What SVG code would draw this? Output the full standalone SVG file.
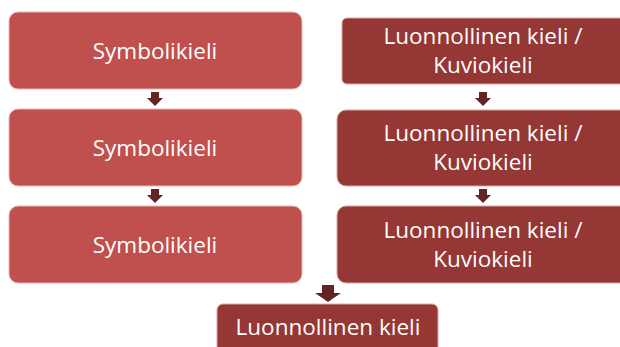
<svg xmlns="http://www.w3.org/2000/svg" width="620" height="347" viewBox="0 0 620 347">
<style>
.l{fill:#C0504D;stroke:#E6B9B8;stroke-width:1}
.r{fill:#953735;stroke:#D9A8A6;stroke-width:1}
.a{fill:#632523}
text{font-family:"Open Sans","Liberation Sans",sans-serif;font-size:22.5px;fill:#fff;text-anchor:middle}
</style>
<rect width="620" height="347" fill="#fff"/>
<g id="left1"><rect class="l" x="9" y="12" width="293" height="77" rx="9"/><text x="155" y="59">Symbolikieli</text></g>
<g id="left2"><rect class="l" x="9" y="109" width="293" height="77" rx="9"/><text x="155" y="156">Symbolikieli</text></g>
<g id="left3"><rect class="l" x="9" y="206" width="293" height="77" rx="9"/><text x="155" y="253">Symbolikieli</text></g>
<g id="right1"><rect class="r" x="342" y="18" width="290" height="66" rx="5"/><text x="483" y="44">Luonnollinen kieli /</text><text x="483" y="73">Kuviokieli</text></g>
<g id="right2"><rect class="r" x="337" y="110" width="300" height="76" rx="9"/><text x="483" y="141">Luonnollinen kieli /</text><text x="483" y="170">Kuviokieli</text></g>
<g id="right3"><rect class="r" x="337" y="206" width="300" height="77" rx="9"/><text x="483" y="238">Luonnollinen kieli /</text><text x="483" y="267">Kuviokieli</text></g>
<g id="bottom"><rect class="r" x="217" y="304" width="221" height="60" rx="6"/><text x="328" y="335">Luonnollinen kieli</text></g>
<g id="connectors">
<polygon class="a" points="151,92 159,92 159,98 163,98 155,106 147,98 151,98"/>
<polygon class="a" points="151,189 159,189 159,195 163,195 155,203 147,195 151,195"/>
<polygon class="a" points="479,92 487,92 487,98 491,98 483,106 475,98 479,98"/>
<polygon class="a" points="479,189 487,189 487,195 491,195 483,203 475,195 479,195"/>
<polygon class="a" points="322,285 334,285 334,293 341,293 328,302 315,293 322,293"/>
</g>
</svg>
